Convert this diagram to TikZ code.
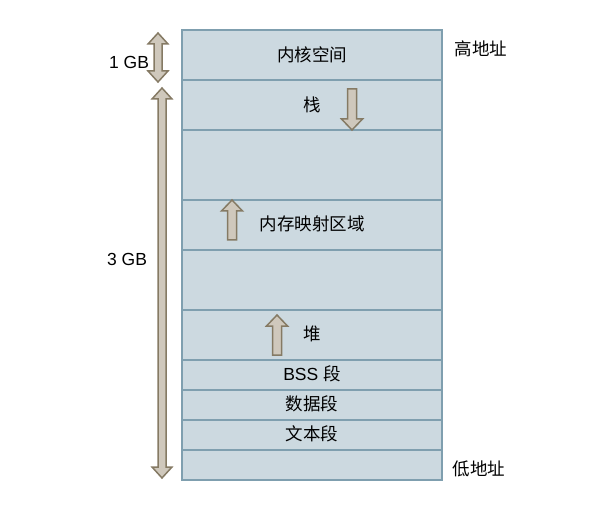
\documentclass[tikz,border=0pt]{standalone}
\usepackage{fontspec}
\setmainfont{Liberation Sans}
\newfontfamily\cjk{Noto Sans CJK SC}
\definecolor{cellfill}{HTML}{CCD9E0}
\definecolor{cellline}{HTML}{7F9FAF}
\definecolor{arrowfill}{HTML}{CFC8BC}
\definecolor{arrowline}{HTML}{857A64}
\tikzset{
  segtext/.style={inner sep=0pt, anchor=center},
  blockarrow/.style={fill=arrowfill, draw=arrowline, line width=1.5pt, line join=miter},
}
% block arrow at x=#1 from y=#2 to its tip at y=#3
\newcommand{\vblock}[3]{%
  \pgfmathsetmacro{\hd}{(#3>#2) ? -11 : 11}
  \draw[blockarrow] ({#1-4.5},#2) -- ({#1-4.5},{#3+\hd}) -- ({#1-10.5},{#3+\hd})
    -- (#1,#3) -- ({#1+10.5},{#3+\hd}) -- ({#1+4.5},{#3+\hd}) -- ({#1+4.5},#2) -- cycle;
}
% double block arrow at x=#1 between tips at y=#2 (top) and y=#3 (bottom)
\newcommand{\dblock}[3]{%
  \draw[blockarrow] (#1,#2) -- ({#1+10},{#2+11}) -- ({#1+4},{#2+11}) -- ({#1+4},{#3-11})
    -- ({#1+10},{#3-11}) -- (#1,#3) -- ({#1-10},{#3-11}) -- ({#1-4},{#3-11})
    -- ({#1-4},{#2+11}) -- ({#1-10},{#2+11}) -- cycle;
}
\begin{document}
\begin{tikzpicture}[x=1pt, y=-1pt, font=\fontsize{17.5}{20}\selectfont]
  \useasboundingbox (0,0) rectangle (608,513);
  %
  % memory segments
  \fill[cellfill] (182,30) rectangle (442,480);
  \foreach \y in {80,130,200,250,310,360,390,420,450} {
    \draw[cellline, line width=1.5pt] (182,\y) -- (442,\y);
  }
  \draw[cellline, line width=1.5pt] (182,30) rectangle (442,480);
  %
  \node[segtext] (kernel) at (312,55) {\cjk 内核空间};
  \node[segtext] (stack) at (312,105) {\cjk 栈};
  \node[segtext] (mmap) at (312,224) {\cjk 内存映射区域};
  \node[segtext] (heap) at (312,334) {\cjk 堆};
  \node[segtext] (bss) at (312,374) {BSS {\cjk 段}};
  \node[segtext] (data) at (312,404) {\cjk 数据段};
  \node[segtext] (text) at (312,434) {\cjk 文本段};
  %
  % growth directions
  \vblock{352}{89}{130}
  \vblock{232}{240}{200}
  \vblock{277}{355}{315}
  %
  % address ends and sizes
  \node[segtext] (high) at (481,49) {\cjk 高地址};
  \node[segtext] (low) at (479,469) {\cjk 低地址};
  \node[segtext] (onegb) at (129,62) {1 GB};
  \node[segtext] (threegb) at (127,259) {3 GB};
  \dblock{158}{33}{82}
  \dblock{162}{88}{478}
\end{tikzpicture}
\end{document}
